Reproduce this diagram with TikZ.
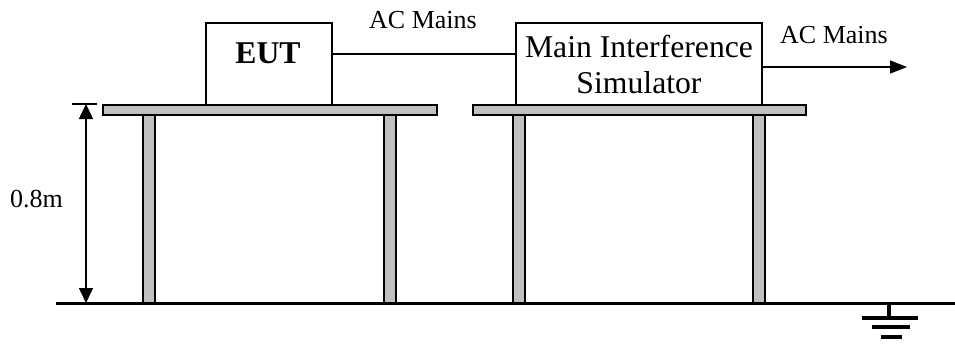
\documentclass[tikz,border=0pt]{standalone}
\usepackage{fontspec}
\setmainfont{Liberation Serif}
\usetikzlibrary{arrows.meta}
\definecolor{tablegray}{HTML}{C0C0C0}
\begin{document}
\begin{tikzpicture}[x=1pt,y=-1pt,
  boxstyle/.style={draw=black,line width=2pt,fill=white,inner sep=0pt},
  slab/.style={draw=black,line width=2pt,fill=tablegray},
  wire/.style={line width=1.5pt},
  lbl/.style={font=\fontsize{26}{30}\selectfont,inner sep=0pt,anchor=base},
  bigl/.style={font=\fontsize{31.7}{36}\selectfont,inner sep=0pt,anchor=base},
  tip/.style={-{Triangle[length=15pt,width=14pt]}}
]
\useasboundingbox (0,0) rectangle (955,343);
% legs
\foreach \a/\b in {143/155,384/396,513/525,753/765}{
  \draw[slab] (\a,115) rectangle (\b,303);
}
% table tops
\draw[slab] (103,105) rectangle (437,115);
\draw[slab] (473,105) rectangle (806,115);
% ground floor line
\coordinate (gl) at (56,303);
\coordinate (gr) at (955,303);
\draw[line width=3pt] (gl) -- (gr);
% ground symbol
\coordinate (gs) at (889,303);
\coordinate (gb) at (889,318);
\draw[line width=3.5pt] (gs) -- (gb);
\draw[line width=4pt] (862,318) -- (918,318);
\draw[line width=4pt] (872,327) -- (910,327);
\draw[line width=4pt] (881,337) -- (902,337);
% boxes
\node[boxstyle,minimum width=126pt,minimum height=82pt] (eut) at (269,64) {};
\node[boxstyle,minimum width=246pt,minimum height=82pt] (mis) at (639,64) {};
\node[bigl,font=\fontsize{31.7}{36}\selectfont\bfseries] (eutt) at (268,63) {EUT};
\node[bigl] (mis1) at (639,57) {Main Interference};
\node[bigl] (mis2) at (639,93) {Simulator};
% connectors
\coordinate (eutR) at (332,54);
\coordinate (misL) at (516,54);
\draw[wire] (eutR) -- (misL);
\node[lbl] (ac1) at (423,28) {AC Mains};
\coordinate (misR) at (762,67);
\coordinate (outE) at (907,67);
\draw[wire,-{Triangle[length=17pt,width=13pt]}] (misR) -- (outE);
\node[lbl] (ac2) at (834,43) {AC Mains};
% dimension
\coordinate (dt) at (86,104);
\coordinate (db) at (86,303);
\draw[wire,{Triangle[length=15pt,width=14pt]}-{Triangle[length=15pt,width=14pt]}] (dt) -- (db);
\coordinate (tl) at (72,104);
\coordinate (tr) at (97,104);
\draw[wire] (tl) -- (tr);
\node[lbl,anchor=base west] (dim) at (10,207) {0.8m};
\end{tikzpicture}
\end{document}
